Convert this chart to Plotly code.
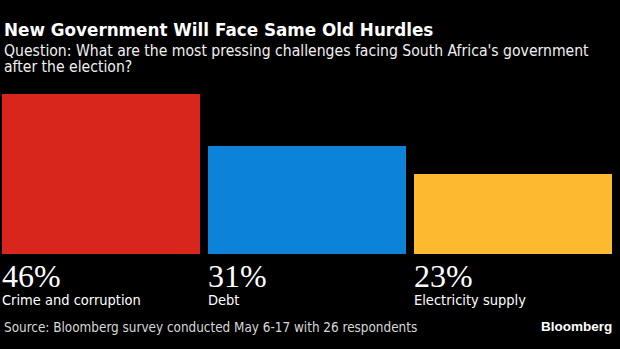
import plotly.graph_objects as go

categories = ["Crime and corruption", "Debt", "Electricity supply"]
values = [46, 31, 23]
value_labels = ["46%", "31%", "23%"]
colors = ["#d9261c", "#0c82d9", "#fdba31"]

title = "New Government Will Face Same Old Hurdles"
subtitle_lines = ["Question: What are the most pressing challenges facing South Africa's government",
                  "after the election?"]
source = "Source: Bloomberg survey conducted May 6-17 with 26 respondents"
brand = "Bloomberg"

W, H = 620, 349
MT, MB = 80, 95
PH = H - MT - MB
BAR_W = 0.962


def py(p):
    """pixel from top -> paper y"""
    return (H - MB - p) / PH


def px(p):
    return p / W


xs = list(range(len(categories)))

fig = go.Figure()
fig.add_trace(go.Bar(
    x=xs, y=values, width=BAR_W,
    marker=dict(color=colors, line=dict(width=0)),
    hoverinfo="skip",
))

ann = []
ann.append(dict(text=f"<b>{title}</b>", x=px(2), y=py(30.5), xref="paper", yref="paper",
                xanchor="left", yanchor="middle", showarrow=False,
                font=dict(family="DejaVu Sans", size=16.8, color="#ffffff")))
for i, (line, cy) in enumerate(zip(subtitle_lines, [50.5, 67.5])):
    ann.append(dict(text=line, x=px(2), y=py(cy), xref="paper", yref="paper",
                    xanchor="left", yanchor="middle", showarrow=False,
                    font=dict(family="DejaVu Sans Condensed, DejaVu Sans", size=15.6, color="#f0f0f0")))
for i, (c, v) in enumerate(zip(categories, value_labels)):
    ann.append(dict(text=v, x=xs[i] - BAR_W / 2, y=py(276), xref="x", yref="paper",
                    xanchor="left", yanchor="middle", showarrow=False, xshift=-2,
                    font=dict(family="Liberation Sans Narrow", size=32, color="#ffffff")))
    ann.append(dict(text=c, x=xs[i] - BAR_W / 2, y=py(300), xref="x", yref="paper",
                    xanchor="left", yanchor="middle", showarrow=False, xshift=-2,
                    font=dict(family="DejaVu Sans Condensed, DejaVu Sans", size=14.5, color="#ffffff")))
ann.append(dict(text=source, x=px(2), y=py(327.5), xref="paper", yref="paper",
                xanchor="left", yanchor="middle", showarrow=False,
                font=dict(family="DejaVu Sans Condensed, DejaVu Sans", size=13.4, color="#d8d8d8")))
ann.append(dict(text=f"<b>{brand}</b>", x=px(614), y=py(326.5), xref="paper", yref="paper",
                xanchor="right", yanchor="middle", showarrow=False,
                font=dict(family="Liberation Sans", size=13.5, color="#ffffff")))

fig.update_layout(
    width=W, height=H,
    margin=dict(l=0, r=0, t=MT, b=MB),
    paper_bgcolor="#000000", plot_bgcolor="#000000",
    showlegend=False,
    bargap=0,
    xaxis=dict(range=[-0.491, 2.522], visible=False, fixedrange=True),
    yaxis=dict(range=[0, PH / 3.472], visible=False, fixedrange=True),
    annotations=ann,
)

fig.write_html("out.html", config={"displayModeBar": False})
